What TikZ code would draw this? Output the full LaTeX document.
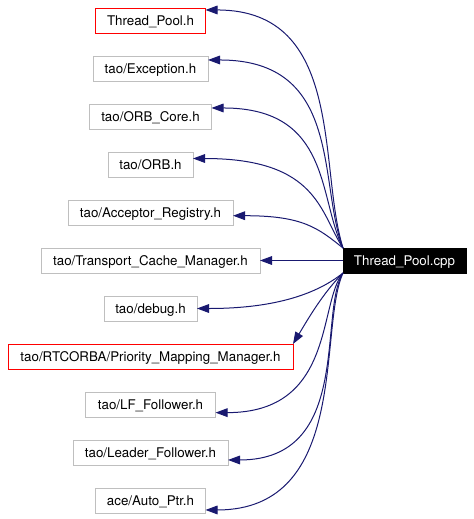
\documentclass[tikz,border=0pt]{standalone}
\usepackage{fontspec}
\setmainfont{TeX Gyre Heros}
\usetikzlibrary{arrows.meta}
\usetikzlibrary{positioning}
\definecolor{edgeblue}{HTML}{191970}
\definecolor{boxgray}{HTML}{BFBFBF}

\begin{document}
\begin{tikzpicture}[x=0.75pt, y=-0.75pt, node distance=17.25pt,
    file/.style={draw=boxgray, line width=0.75pt, inner xsep=2pt, inner ysep=2pt, outer sep=0pt,
        minimum height=18.75pt, text height=8.5pt, text depth=1.75pt, font=\fontsize{10}{12}\selectfont},
    dep/.style={draw=edgeblue, line width=0.75pt, -{Triangle[length=9pt, width=6.5pt]}}]
    \useasboundingbox (0,0) rectangle (474,519);

    \node[file, draw=red, minimum width=82.5pt] (pool) at (150.5,20.5) {Thread\_Pool.h};
    \node[file, minimum width=86.25pt, below=of pool] (exception) {tao/Exception.h};
    \node[file, minimum width=91.5pt, below=of exception] (orbcore) {tao/ORB\_Core.h};
    \node[file, minimum width=63.75pt, below=of orbcore] (orb) {tao/ORB.h};
    \node[file, minimum width=123.75pt, below=of orb] (acceptor) {tao/Acceptor\_Registry.h};
    \node[file, minimum width=164.25pt, below=of acceptor] (cache) {tao/Transport\_Cache\_Manager.h};
    \node[file, minimum width=69.75pt, below=of cache] (debug) {tao/debug.h};
    \node[file, draw=red, minimum width=213.75pt, below=of debug] (mapping) {tao/RTCORBA/Priority\_Mapping\_Manager.h};
    \node[file, minimum width=97.5pt, below=of mapping] (lf) {tao/LF\_Follower.h};
    \node[file, minimum width=116.25pt, below=of lf] (leader) {tao/Leader\_Follower.h};
    \node[file, minimum width=82.5pt, below=of leader] (autoptr) {ace/Auto\_Ptr.h};

    \node[file, draw=black, fill=black, text=white, minimum width=92.25pt] (cpp) at (404.5,260.5) {Thread\_Pool.cpp};

    % includes above the source file
    \draw[dep] (cpp.north west) .. controls +(-25,-80) and +(140,0) .. ([yshift=7.9pt]pool.east);
    \draw[dep] (cpp.north west) .. controls +(-25,-65) and +(135,0) .. ([yshift=6.4pt]exception.east);
    \draw[dep] (cpp.north west) .. controls +(-25,-50) and +(120,0) .. ([yshift=6.4pt]orbcore.east);
    \draw[dep] (cpp.north west) .. controls +(-23,-35) and +(125,0) .. ([yshift=4.5pt]orb.east);
    \draw[dep] (cpp.north west) .. controls +(-25,-20) and +(70,0) .. ([yshift=-2.4pt]acceptor.east);
    \draw[dep] (cpp) -- (cache);

    % includes below the source file
    \draw[dep] (cpp.south west) .. controls +(-25,20) and +(80,0) .. (debug.east);
    \draw[dep] (cpp.south west) .. controls +(-20,20) and +(15,-25) .. (mapping.north east);
    \draw[dep] (cpp.south west) .. controls +(-25,30) and +(120,0) .. ([yshift=-6.1pt]lf.east);
    \draw[dep] (cpp.south west) .. controls +(-25,40) and +(125,0) .. ([yshift=-5.6pt]leader.east);
    \draw[dep] (cpp.south west) .. controls +(-25,55) and +(145,0) .. ([yshift=-7.1pt]autoptr.east);
\end{tikzpicture}
\end{document}
